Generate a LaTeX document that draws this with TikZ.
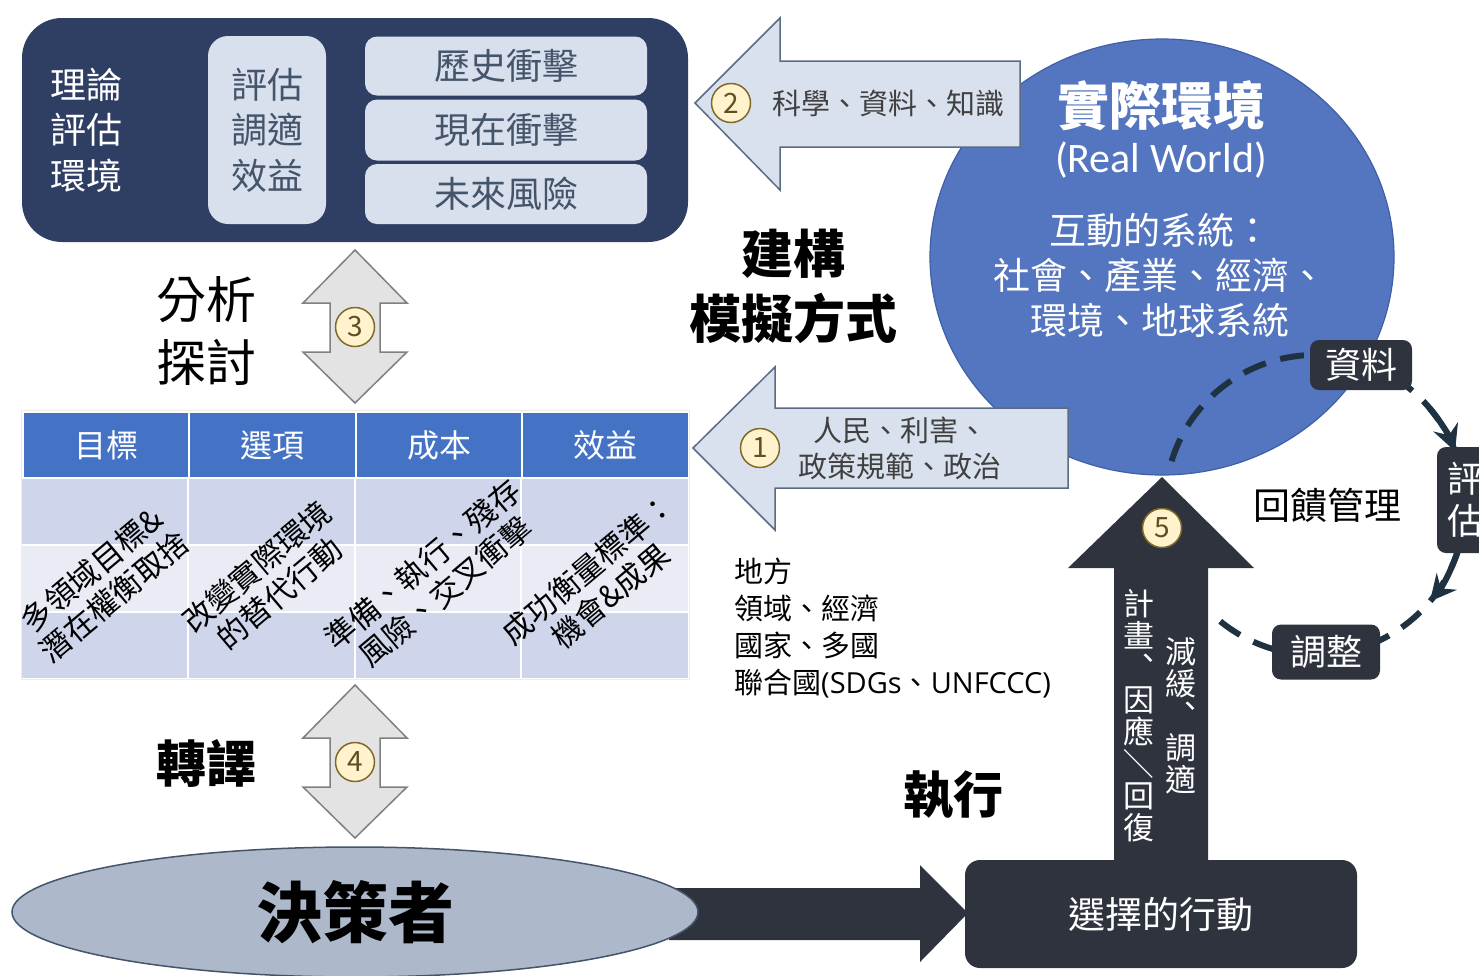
\documentclass[tikz,border=0pt]{standalone}
\usepackage{fontspec}
\setmainfont{Noto Sans CJK TC}
\newfontfamily\latinlight{Carlito}
\newfontfamily\latinsans{Open Sans}
\usetikzlibrary{arrows.meta,calc,shapes.geometric}
\definecolor{navy}{HTML}{2F3E63}
\definecolor{lightbox}{HTML}{D9E0ED}
\definecolor{lighttext}{HTML}{44546A}
\definecolor{circblue}{HTML}{5475BF}
\definecolor{circdraw}{HTML}{3F5FA8}
\definecolor{hdr}{HTML}{4472C4}
\definecolor{rowa}{HTML}{CFD5EA}
\definecolor{rowb}{HTML}{E9EBF5}
\definecolor{grayfill}{HTML}{E3E3E3}
\definecolor{graydraw}{HTML}{808080}
\definecolor{ellfill}{HTML}{ADB9CA}
\definecolor{ellydraw}{HTML}{44546A}
\definecolor{dark}{HTML}{2E333E}
\definecolor{loopc}{HTML}{1F3242}
\definecolor{numfill}{HTML}{FFF2CC}
\definecolor{numdraw}{HTML}{7F6A2A}
\definecolor{numtext}{HTML}{5E5020}
\definecolor{arrowfill}{HTML}{DAE1EE}
\definecolor{arrowdraw}{HTML}{5B6B84}
\definecolor{arrowtext}{HTML}{404040}
\tikzset{
  lbl/.style={inner sep=0pt, align=center},
  numc/.style={circle, fill=numfill, draw=numdraw, line width=1.5pt, minimum size=39pt, inner sep=0pt, text=numtext, font=\fontsize{28}{28}\selectfont},
  lbox/.style={fill=lightbox, rounded corners=12pt, inner sep=0pt, text=lighttext},
  dbox/.style={fill=dark, rounded corners=9pt, text=white, inner sep=0pt, align=center},
  hcell/.style={fill=hdr, draw=white, line width=2pt, inner sep=0pt, anchor=north west, text=white, font=\fontsize{32}{32}\selectfont},
  blockarrow/.style={fill=arrowfill, draw=arrowdraw, line width=1.5pt},
  grayarrow/.style={fill=grayfill, draw=graydraw, line width=1.5pt},
  rottext/.style={rotate=40, align=center, inner sep=0pt, font=\fontsize{30.5}{35}\selectfont},
  loopline/.style={draw=loopc, line width=6pt, dash pattern=on 24pt off 15pt},
  looparrow/.style={draw=loopc, line width=6pt, -{Stealth[length=26pt,width=26pt,inset=9pt]}},
}
\begin{document}
\begin{tikzpicture}[x=1pt,y=-1pt]
\useasboundingbox (0,0) rectangle (1479,975);
\fill[white] (0,0) rectangle (1479,975);

% ---------- top-left box ----------
\node[fill=navy, rounded corners=40pt, minimum width=666pt, minimum height=224pt, inner sep=0pt] (topbox) at (355,130) {};
\node[lbl, text=white, font=\fontsize{36}{45.5}\selectfont] (theory) at (86,130) {理論\\評估\\環境};
\node[lbox, minimum width=118pt, minimum height=188pt, rounded corners=20pt, font=\fontsize{36}{45.5}\selectfont, align=center] (assess) at (267,130) {評估\\調適\\效益};
\node[lbox, minimum width=282pt, minimum height=59pt, font=\fontsize{36}{36}\selectfont] (hist) at (506,66) {歷史衝擊};
\node[lbox, minimum width=282pt, minimum height=61pt, font=\fontsize{36}{36}\selectfont] (now) at (506,130) {現在衝擊};
\node[lbox, minimum width=282pt, minimum height=60pt, font=\fontsize{36}{36}\selectfont] (future) at (506,194) {未來風險};

% ---------- real world circle ----------
\node[ellipse, fill=circblue, draw=circdraw, line width=1.2pt, minimum width=464pt, minimum height=436pt, inner sep=0pt] (world) at (1162,257) {};
\node[lbl, text=white, font=\fontsize{52}{52}\selectfont\bfseries] (wtitle) at (1161,106) {實際環境};
\node[lbl, text=white, font=\latinlight\fontsize{42}{42}\selectfont] (wsub) at (1161,160) {(Real World)};
\node[lbl, text=white, font=\fontsize{37}{45}\selectfont] (wsys) at (1160,275) {互動的系統：\\社會、產業、經濟、\\環境、地球系統};

% ---------- arrow 2 ----------
\draw[blockarrow] (695,103) -- (780,18) -- (780,61) -- (1020,61) -- (1020,147) -- (780,147) -- (780,190) -- cycle;
\node[numc] (n2) at (731,103) {2};
\node[lbl, text=arrowtext, font=\fontsize{29}{29}\selectfont] (sci) at (888,103) {科學、資料、知識};

% ---------- arrow 1 ----------
\draw[blockarrow] (693,448) -- (775,367) -- (775,408) -- (1068,408) -- (1068,488) -- (775,488) -- (775,530) -- cycle;
\node[numc] (n1) at (760,448) {1};
\node[lbl, text=arrowtext, font=\fontsize{29}{36}\selectfont] (people) at (900,448) {人民、利害、\\政策規範、政治};

% ---------- construct label ----------
\node[lbl, font=\fontsize{52}{65}\selectfont\bfseries] (build) at (793,286) {建構\\模擬方式};

% ---------- analysis ----------
\node[lbl, font=\fontsize{50}{63}\selectfont] (analysis) at (206,331) {分析\\探討};
\draw[grayarrow] (355,250) -- (407,303) -- (380,303) -- (380,352) -- (407,352) -- (355,403) -- (303,352) -- (330,352) -- (330,303) -- (303,303) -- cycle;
\node[numc] (n3) at (355,327) {3};

% ---------- table ----------
\node[hcell, minimum width=166pt, minimum height=66pt] (h1) at (22,411) {目標};
\node[hcell, minimum width=167pt, minimum height=66pt] (h2) at (188,411) {選項};
\node[hcell, minimum width=166pt, minimum height=66pt] (h3) at (355,411) {成本};
\node[hcell, minimum width=167pt, minimum height=66pt] (h4) at (521,411) {效益};
\fill[rowa] (22,479) rectangle (688,545);
\fill[rowb] (22,545) rectangle (688,612);
\fill[rowa] (22,612) rectangle (688,678);
\draw[white, line width=2pt] (22,545) -- (688,545) (22,612) -- (688,612)
  (188,479) -- (188,678) (355,479) -- (355,678) (521,479) -- (521,678);
\draw[white!85!gray, line width=1pt] (21,410) rectangle (689,679);
\node[rottext] (c1) at (103,583) {多領域目標\&\\潛在權衡取捨};
\node[rottext] (c2) at (268,580) {改變實際環境\\的替代行動};
\node[rottext] (c3) at (434,578) {準備、執行、殘存\\風險、交叉衝擊};
\node[rottext] (c4) at (599,582) {成功衡量標準：\\機會\&成果};

% ---------- translation ----------
\node[lbl, font=\fontsize{50}{50}\selectfont\bfseries] (transl) at (206,763) {轉譯};
\draw[grayarrow] (355,685) -- (407,738) -- (380,738) -- (380,787) -- (407,787) -- (355,838) -- (303,787) -- (330,787) -- (330,738) -- (303,738) -- cycle;
\node[numc] (n4) at (355,762) {4};

% ---------- decision maker & action ----------
\fill[dark] (669,888) -- (920,888) -- (920,865) -- (968,913) -- (920,962) -- (920,940) -- (669,940) -- cycle;
\node[ellipse, fill=ellfill, draw=ellydraw, line width=1.5pt, minimum width=686pt, minimum height=130pt, inner sep=0pt] (dm) at (355,912) {};
\node[lbl, font=\fontsize{66}{66}\selectfont\bfseries] (dmtext) at (355,912) {決策者};
\node[lbl, font=\fontsize{50}{50}\selectfont\bfseries] (exec) at (953,795) {執行};

\fill[dark] (1162,477) -- (1254,568) -- (1208,568) -- (1208,866) -- (1114,866) -- (1114,568) -- (1068,568) -- cycle;
\node[dbox, minimum width=392pt, minimum height=108pt, rounded corners=15pt, font=\fontsize{37}{37}\selectfont] (action) at (1161,914) {選擇的行動};
\node[numc] (n5) at (1162,528) {5};
\node[lbl, text=white, font=\fontsize{31}{32}\selectfont] (v1) at (1139,716) {計\\畫\\︑\\因\\應\\\rotatebox[origin=c]{90}{／}\\回\\復};
\node[lbl, text=white, font=\fontsize{31}{32}\selectfont] (v2) at (1181,716) {減\\緩\\︑\\調\\適};

% ---------- scale text ----------
\node[lbl, anchor=west, align=left, font=\fontsize{29}{36.7}\selectfont] (scale) at (734,628) {地方\\領域、經濟\\國家、多國\\聯合國{\latinsans(SDGs}、{\latinsans UNFCCC)}};

% ---------- feedback loop ----------
\coordinate (fc) at (1315,505);
\draw[loopline] (fc) ++(197:150) arc[start angle=197, end angle=494, radius=150];
\draw[looparrow] (fc) ++(320:150) arc[start angle=320, end angle=339, radius=150];
\draw[looparrow] (fc) ++(18:150) arc[start angle=18, end angle=40, radius=150];
\node[dbox, minimum width=102pt, minimum height=50pt, font=\fontsize{36}{36}\selectfont] (data) at (1361,365) {資料};
\node[dbox, minimum width=56pt, minimum height=106pt, font=\fontsize{36}{42}\selectfont] (eval) at (1465,500) {評\\估};
\node[dbox, minimum width=108pt, minimum height=55pt, font=\fontsize{36}{36}\selectfont] (adjust) at (1326,652) {調整};
\node[lbl, font=\fontsize{37}{37}\selectfont] (fbm) at (1327,505) {回饋管理};
\end{tikzpicture}
\end{document}
